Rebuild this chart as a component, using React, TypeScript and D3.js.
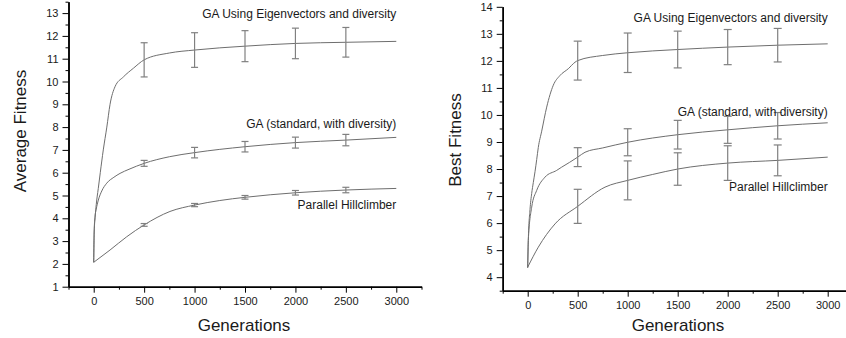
import * as d3 from "d3";
import { useEffect, useRef } from "react";

// ---- left panel: average fitness ----
const avgEigenGens = [0, 5, 15, 25, 45, 65, 95, 130, 162, 211, 294, 393, 500, 750, 1000, 1500, 2000, 2500, 3000];
const avgEigenVals = [2.07, 3.4, 4.1, 4.6, 5.3, 6.0, 7.0, 8.0, 9.0, 9.77, 10.2, 10.58, 10.95, 11.25, 11.38, 11.55, 11.67, 11.72, 11.76];

const avgStdGens = [0, 5, 13, 25, 46, 80, 129, 200, 261, 350, 500, 750, 1000, 1500, 2000, 2500, 3000];
const avgStdVals = [2.07, 3.5, 4.07, 4.4, 4.8, 5.2, 5.54, 5.8, 5.97, 6.15, 6.41, 6.7, 6.88, 7.14, 7.32, 7.43, 7.55];

const avgParGens = [0, 162, 327, 500, 756, 1000, 1250, 1500, 2000, 2500, 3000];
const avgParVals = [2.07, 2.61, 3.19, 3.71, 4.3, 4.58, 4.78, 4.92, 5.12, 5.24, 5.31];

// ---- right panel: best fitness ----
const bestEigenGens = [0, 6, 23, 40, 56, 73, 90, 106, 140, 190, 256, 323, 406, 473, 500, 750, 1000, 1500, 2000, 2500, 3000];
const bestEigenVals = [4.35, 5.36, 6.5, 7.1, 7.5, 7.9, 8.35, 8.8, 9.4, 10.29, 11.1, 11.46, 11.71, 11.95, 12.01, 12.2, 12.3, 12.42, 12.51, 12.58, 12.63];

const bestStdGens = [0, 6, 40, 90, 173, 290, 340, 420, 500, 573, 750, 1000, 1500, 2000, 2500, 3000];
const bestStdVals = [4.35, 5.36, 6.59, 7.21, 7.7, 7.95, 8.07, 8.25, 8.44, 8.62, 8.78, 8.99, 9.27, 9.45, 9.6, 9.71];

const bestParGens = [0, 106, 273, 500, 773, 1000, 1250, 1500, 2000, 2500, 3000];
const bestParVals = [4.37, 5.11, 5.97, 6.62, 7.33, 7.58, 7.8, 8.0, 8.22, 8.32, 8.44];

// error bars (half-heights) at these generations
const errGens = [500, 1000, 1500, 2000, 2500];
const avgEigenErr = [0.75, 0.76, 0.68, 0.67, 0.65];
const avgStdErr = [0.13, 0.23, 0.23, 0.24, 0.25];
const avgParErr = [0.06, 0.07, 0.08, 0.1, 0.12];
const bestEigenErr = [0.72, 0.73, 0.68, 0.65, 0.62];
const bestStdErr = [0.35, 0.5, 0.53, 0.5, 0.49];
const bestParErr = [0.63, 0.72, 0.6, 0.64, 0.57];

const seriesNames = ["GA Using Eigenvectors and diversity", "GA (standard, with diversity)", "Parallel Hillclimber"];
const avgLabelY = [12.8, 7.96, 4.41];
const bestLabelY = [13.42, 9.96, 7.18];

const xMajor = [0, 500, 1000, 1500, 2000, 2500, 3000];
const xMinor = [-250, 250, 750, 1250, 1750, 2250, 2750, 3250];
const avgYMajor = d3.range(1, 14);
const bestYMajor = d3.range(4, 15);

const FONT = "Arial, 'Liberation Sans', sans-serif";

export default function App() {
  const ref = useRef<SVGSVGElement>(null);

  useEffect(() => {
    const svg = d3.select(ref.current);
    svg.selectAll("*").remove();

    const panels = [
      {
        xRange: [68.5, 421.5], yDomain: [1, 13.5], yRange: [286.7, 1.7],
        yMajor: avgYMajor, title: "Average Fitness", titleX: 26, titleY: 131, genX: 244,
        capHalf: 3.5, labelY: avgLabelY,
        series: [
          { g: avgEigenGens, v: avgEigenVals, e: avgEigenErr },
          { g: avgStdGens, v: avgStdVals, e: avgStdErr },
          { g: avgParGens, v: avgParVals, e: avgParErr },
        ],
      },
      {
        xRange: [502.7, 852.7], yDomain: [3.5, 14], yRange: [290.7, 6.8],
        yMajor: bestYMajor, title: "Best Fitness", titleX: 461, titleY: 140, genX: 678,
        capHalf: 4, labelY: bestLabelY,
        series: [
          { g: bestEigenGens, v: bestEigenVals, e: bestEigenErr },
          { g: bestStdGens, v: bestStdVals, e: bestStdErr },
          { g: bestParGens, v: bestParVals, e: bestParErr },
        ],
      },
    ];

    panels.forEach((p) => {
      const x = d3.scaleLinear().domain([-250, 3250]).range(p.xRange);
      const y = d3.scaleLinear().domain(p.yDomain).range(p.yRange);
      const x0 = p.xRange[0];
      const y0 = p.yRange[0];
      const yMinor = p.yMajor.map((d) => d + 0.5).filter((d) => d <= p.yDomain[1]);
      if (p.yDomain[0] % 1 !== 0) yMinor.unshift(p.yDomain[0]);

      const g = svg.append("g");

      // curves + error bars
      const line = d3.line<[number, number]>().curve(d3.curveMonotoneX);
      p.series.forEach((s) => {
        const pts = s.g.map((gv, i) => [x(gv), y(s.v[i])] as [number, number]);
        g.append("path")
          .attr("d", line(pts))
          .attr("fill", "none")
          .attr("stroke", "#6e6e6e")
          .attr("stroke-width", 1);

        errGens.forEach((eg, i) => {
          const mean = s.v[s.g.indexOf(eg)];
          const cx = x(eg);
          const top = y(mean + s.e[i]);
          const bot = y(mean - s.e[i]);
          g.append("line").attr("x1", cx).attr("x2", cx).attr("y1", top).attr("y2", bot)
            .attr("stroke", "#808080").attr("stroke-width", 1.2);
          [top, bot].forEach((yy) => {
            g.append("line").attr("x1", cx - p.capHalf).attr("x2", cx + p.capHalf)
              .attr("y1", yy).attr("y2", yy)
              .attr("stroke", "#808080").attr("stroke-width", 1.2);
          });
        });
      });

      // axes
      const styleAxis = (sel: d3.Selection<SVGGElement, unknown, null, undefined>) => {
        sel.selectAll("path").attr("stroke", "#000").attr("stroke-width", 1.5);
        sel.selectAll("line").attr("stroke", "#000").attr("stroke-width", 1);
        sel.selectAll("text").attr("font-family", FONT).attr("font-size", 11).attr("fill", "#1a1a1a");
      };

      const xg = g.append("g").attr("transform", `translate(0,${y0})`)
        .call(d3.axisBottom(x).tickValues(xMajor).tickSize(6).tickSizeOuter(0).tickPadding(5).tickFormat(d3.format("d")));
      styleAxis(xg);
      const xgm = g.append("g").attr("transform", `translate(0,${y0})`)
        .call(d3.axisBottom(x).tickValues(xMinor).tickSize(3).tickSizeOuter(0).tickFormat(() => ""));
      styleAxis(xgm);

      const yg = g.append("g").attr("transform", `translate(${x0},0)`)
        .call(d3.axisLeft(y).tickValues(p.yMajor).tickSize(6).tickSizeOuter(0).tickPadding(4).tickFormat(d3.format("d")));
      styleAxis(yg);
      const ygm = g.append("g").attr("transform", `translate(${x0},0)`)
        .call(d3.axisLeft(y).tickValues(yMinor).tickSize(3).tickSizeOuter(0).tickFormat(() => ""));
      styleAxis(ygm);

      // series labels
      seriesNames.forEach((name, i) => {
        g.append("text")
          .attr("x", x(3000))
          .attr("y", y(p.labelY[i]))
          .attr("text-anchor", "end")
          .attr("font-family", FONT)
          .attr("font-size", 12)
          .attr("fill", "#1a1a1a")
          .text(name);
      });

      // axis titles
      g.append("text")
        .attr("transform", `translate(${p.titleX},${p.titleY}) rotate(-90)`)
        .attr("text-anchor", "middle")
        .attr("font-family", FONT)
        .attr("font-size", 17)
        .attr("fill", "#1a1a1a")
        .text(p.title);

      g.append("text")
        .attr("x", p.genX)
        .attr("y", 331)
        .attr("text-anchor", "middle")
        .attr("font-family", FONT)
        .attr("font-size", 17)
        .attr("fill", "#1a1a1a")
        .text("Generations");
    });
  }, []);

  return (
    <svg
      ref={ref}
      width={846}
      height={338}
      style={{ position: "absolute", left: 0, top: 0, background: "#fff" }}
    />
  );
}
